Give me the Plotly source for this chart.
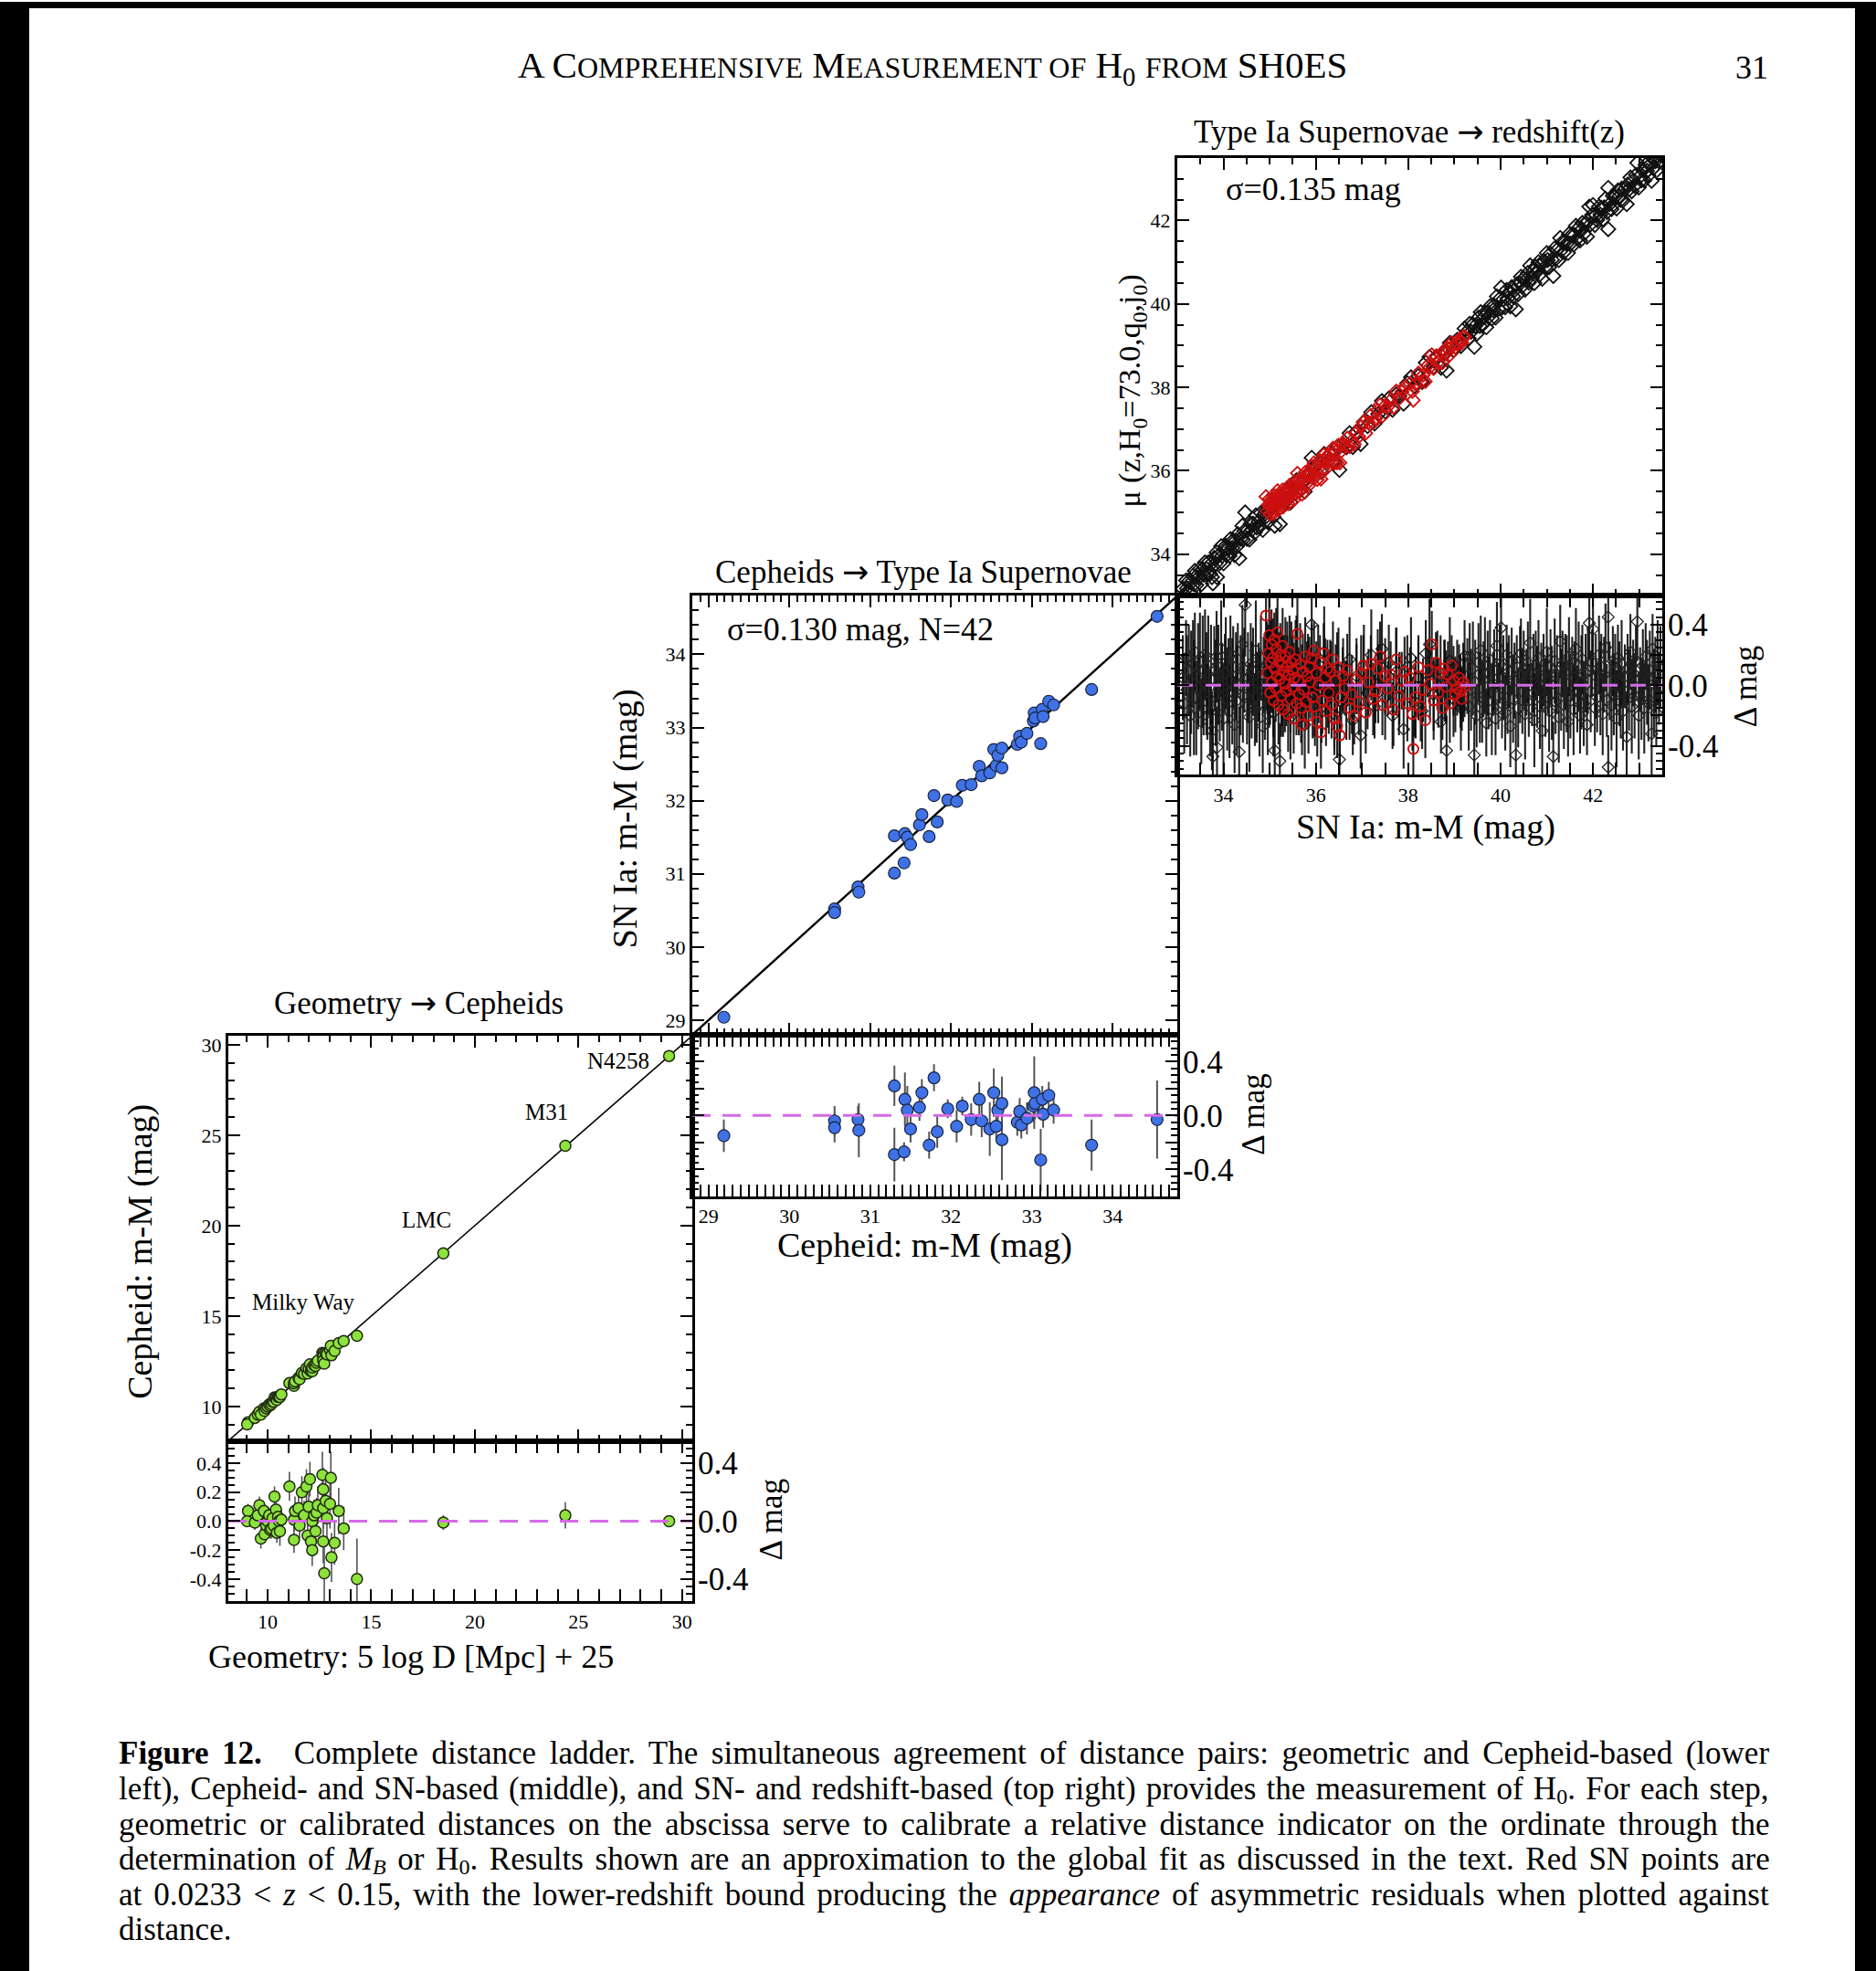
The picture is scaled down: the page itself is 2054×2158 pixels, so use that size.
import plotly.graph_objects as go

W, H = 2054, 2158
FONT = "Liberation Serif, Times New Roman, serif"

# ---------------- data ----------------
# Rung 1: geometric distance vs Cepheid distance (Milky Way parallaxes, LMC, M31, N4258)
geo_dist = [9.05, 9.01, 9.38, 9.52, 9.60, 9.67, 9.82, 9.85, 9.93, 10.00,
            10.07, 10.12, 10.18, 10.24, 10.29, 10.33, 10.40, 10.44, 10.50, 10.55,
            10.59, 10.66, 11.05, 11.27, 11.27, 11.32, 11.49, 11.54, 11.65, 11.76,
            11.87, 11.93, 11.98, 12.04, 12.09, 12.15, 12.15, 12.24, 12.31, 12.36,
            12.42, 12.64, 12.68, 12.68, 12.68, 12.73, 12.80, 12.86, 13.01, 13.05,
            13.08, 13.23, 13.43, 13.67, 14.31, 18.48, 24.37, 29.38]
geo_resid = [0.07, 0.00, -0.01, 0.04, 0.11, -0.12, 0.07, -0.09, -0.03, 0.00,
             0.04, -0.06, -0.05, 0.02, -0.03, 0.17, 0.08, -0.08, 0.03, 0.00,
             -0.07, 0.01, 0.24, -0.13, 0.01, 0.07, 0.09, -0.03, 0.20, 0.04,
             0.24, -0.10, 0.10, 0.29, -0.14, -0.20, 0.00, 0.04, -0.07, 0.06,
             0.11, 0.32, 0.22, 0.09, -0.14, -0.36, 0.14, 0.02, 0.12, 0.30,
             -0.25, -0.15, 0.07, -0.05, -0.40, -0.01, 0.04, 0.00]
geo_err = [0.05, 0.04, 0.05, 0.05, 0.06, 0.07, 0.05, 0.06, 0.05, 0.06,
           0.05, 0.06, 0.07, 0.05, 0.06, 0.07, 0.08, 0.07, 0.06, 0.08,
           0.10, 0.07, 0.10, 0.09, 0.08, 0.10, 0.09, 0.09, 0.11, 0.10,
           0.12, 0.10, 0.11, 0.12, 0.10, 0.11, 0.09, 0.11, 0.12, 0.10,
           0.13, 0.16, 0.15, 0.14, 0.15, 0.25, 0.16, 0.15, 0.17, 0.18,
           0.17, 0.15, 0.16, 0.15, 0.28, 0.05, 0.09, 0.03]
geo_names = ["Milky Way", "LMC", "M31", "N4258"]
geo_name_x = [11.74, 17.65, 23.45, 26.95]
geo_name_y = [15.8, 20.3, 26.3, 29.1]

# Rung 2: Cepheid distance vs SN Ia distance for the 42 calibrators
cep_dist = [29.19, 30.56, 30.56, 30.85, 30.86, 31.30, 31.30, 31.42, 31.43, 31.46,
            31.50, 31.61, 31.64, 31.73, 31.79, 31.83, 31.96, 32.07, 32.14, 32.25,
            32.35, 32.38, 32.48, 32.53, 32.56, 32.58, 32.63, 32.63, 32.82, 32.85,
            32.87, 32.94, 33.02, 33.03, 33.04, 33.11, 33.13, 33.14, 33.21, 33.27,
            33.74, 34.55]
cep_resid = [-0.15, -0.04, -0.09, -0.03, -0.11, 0.22, -0.29, -0.27, 0.12, 0.04,
             -0.10, 0.06, 0.17, -0.22, 0.28, -0.12, 0.05, -0.08, 0.07, -0.03,
             0.12, -0.04, -0.10, 0.17, -0.08, 0.04, -0.18, 0.09, -0.05, 0.03,
             -0.07, -0.02, 0.07, 0.17, 0.09, -0.33, 0.12, 0.01, 0.15, 0.04,
             -0.22, -0.03]
cep_err = [0.12, 0.11, 0.11, 0.10, 0.20, 0.15, 0.20, 0.07, 0.20, 0.18,
           0.10, 0.10, 0.10, 0.10, 0.10, 0.12, 0.07, 0.12, 0.07, 0.12,
           0.13, 0.12, 0.20, 0.18, 0.10, 0.12, 0.30, 0.20, 0.10, 0.10,
           0.10, 0.12, 0.12, 0.27, 0.12, 0.23, 0.10, 0.10, 0.10, 0.10,
           0.19, 0.29]

# Rung 3: SN Ia distance vs redshift distance (Hubble-flow sample)
sn_dist = [
    33.12, 33.15, 33.19, 33.21, 33.25, 33.28, 33.30, 33.34, 33.36, 33.38,
    33.41, 33.45, 33.46, 33.49, 33.52, 33.55, 33.57, 33.60, 33.63, 33.65,
    33.67, 33.71, 33.73, 33.75, 33.77, 33.80, 33.83, 33.85, 33.86, 33.89,
    33.92, 33.95, 33.97, 34.00, 34.03, 34.05, 34.08, 34.11, 34.13, 34.15,
    34.19, 34.21, 34.24, 34.27, 34.29, 34.31, 34.34, 34.37, 34.41, 34.42,
    34.45, 34.47, 34.51, 34.53, 34.56, 34.59, 34.61, 34.64, 34.68, 34.70,
    34.72, 34.76, 34.78, 34.81, 34.85, 34.87, 34.90, 34.94, 34.96, 34.99,
    35.03, 35.08, 35.11, 35.15, 35.22, 35.27, 35.33, 35.38, 35.45, 35.52,
    35.58, 35.63, 35.70, 35.76, 35.83, 35.91, 35.97, 36.05, 36.12, 36.18,
    36.26, 36.33, 36.40, 36.46, 36.51, 36.58, 36.66, 36.73, 36.80, 36.88,
    36.97, 37.04, 37.12, 37.20, 37.27, 37.35, 37.43, 37.50, 37.58, 37.66,
    37.74, 37.81, 37.90, 37.98, 38.06, 38.14, 38.22, 38.30, 38.38, 38.46,
    38.55, 38.63, 38.71, 38.79, 38.83, 38.90, 38.98, 39.06, 39.14, 39.22,
    39.28, 39.31, 39.33, 39.36, 39.40, 39.43, 39.45, 39.48, 39.52, 39.55,
    39.57, 39.60, 39.63, 39.66, 39.69, 39.72, 39.74, 39.77, 39.81, 39.84,
    39.86, 39.89, 39.92, 39.95, 39.98, 40.01, 40.03, 40.06, 40.10, 40.13,
    40.15, 40.18, 40.21, 40.24, 40.27, 40.30, 40.33, 40.35, 40.38, 40.42,
    40.44, 40.47, 40.50, 40.53, 40.56, 40.59, 40.61, 40.64, 40.68, 40.71,
    40.73, 40.76, 40.79, 40.82, 40.85, 40.88, 40.90, 40.93, 40.97, 41.00,
    41.02, 41.05, 41.08, 41.11, 41.14, 41.17, 41.19, 41.22, 41.26, 41.29,
    41.31, 41.34, 41.37, 41.40, 41.43, 41.46, 41.48, 41.51, 41.55, 41.58,
    41.60, 41.63, 41.66, 41.69, 41.72, 41.75, 41.77, 41.80, 41.84, 41.87,
    41.89, 41.92, 41.95, 41.98, 42.00, 42.04, 42.06, 42.09, 42.13, 42.16,
    42.18, 42.21, 42.24, 42.27, 42.30, 42.33, 42.33, 42.36, 42.40, 42.43,
    42.45, 42.48, 42.51, 42.54, 42.57, 42.60, 42.62, 42.65, 42.69, 42.73,
    42.75, 42.78, 42.81, 42.84, 42.87, 42.90, 42.93, 42.96, 42.99, 43.02,
    43.05, 43.08, 43.11, 43.14, 43.17, 43.20, 43.23, 43.27, 43.29, 43.32,
    43.35, 43.37, 43.40, 43.43, 43.46]
sn_resid = [
    0.05, -0.12, 0.18, -0.03, 0.10, -0.20, 0.02, 0.14, -0.08, 0.22,
    -0.15, 0.06, -0.02, 0.16, -0.24, 0.09, -0.06, 0.20, 0.01, -0.11,
    0.13, -0.18, 0.04, -0.30, -0.47, 0.11, -0.05, 0.19, -0.41, 0.07,
    -0.13, 0.24, -0.01, -0.22, 0.08, 0.15, -0.09, 0.03, -0.17, 0.21,
    -0.04, 0.12, -0.26, 0.06, -0.10, 0.17, -0.44, 0.00, 0.27, -0.07,
    0.10, 0.53, -0.14, 0.05, -0.21, 0.14, -0.03, 0.09, -0.16, 0.23,
    -0.08, 0.02, -0.12, 0.18, -0.27, 0.07, -0.02, 0.13, -0.19, 0.04,
    0.08, -0.18, -0.43, 0.12, -0.50, 0.03, -0.09, 0.16, -0.21, 0.05,
    0.19, -0.12, 0.02, -0.26, 0.10, 0.40, -0.06, 0.14, -0.15, 0.22,
    -0.03, 0.07, -0.19, 0.11, -0.49, 0.04, -0.10, 0.17, -0.23, 0.06,
    -0.33, 0.13, -0.05, 0.20, -0.14, 0.01, 0.24, -0.08, 0.15, -0.20,
    0.09, -0.02, -0.29, 0.12, 0.18, -0.11, 0.05, -0.17, 0.21, 0.27,
    -0.06, 0.10, -0.24, 0.03, -0.43, 0.16, -0.09, 0.08, -0.15, 0.19,
    0.06, -0.14, 0.19, -0.03, 0.11, -0.46, 0.02, -0.20, 0.15, -0.08,
    0.23, -0.11, 0.04, 0.13, -0.25, 0.08, -0.05, 0.17, -0.16, 0.01,
    0.10, -0.22, 0.26, -0.07, 0.14, 0.38, -0.12, 0.05, -0.18, 0.20,
    -0.02, 0.09, -0.27, 0.16, -0.09, 0.03, -0.46, 0.12, -0.15, 0.07,
    0.21, -0.04, 0.11, -0.19, 0.02, 0.15, -0.10, 0.28, -0.06, 0.08,
    -0.23, 0.13, -0.01, 0.18, -0.14, 0.06, -0.30, 0.10, -0.08, 0.22,
    0.03, -0.17, 0.12, -0.05, -0.47, 0.16, -0.11, 0.07, -0.21, 0.29,
    -0.03, 0.14, -0.13, 0.09, 0.01, -0.24, 0.19, -0.07, 0.11, -0.16,
    0.05, 0.24, -0.09, 0.13, -0.20, 0.02, 0.17, -0.12, 0.08, -0.26,
    0.10, 0.41, -0.04, 0.15, 0.37, -0.15, 0.06, -0.08, 0.20, -0.02,
    0.12, -0.19, 0.07, 0.25, -0.10, 0.45, -0.54, 0.03, -0.13, 0.16,
    -0.06, 0.09, -0.22, 0.18, 0.01, -0.11, 0.14, -0.17, 0.06, -0.34,
    0.11, -0.03, 0.22, -0.14, 0.08, -0.07, 0.16, 0.42, -0.20, 0.04,
    -0.09, 0.13, -0.15, 0.19, 0.02, -0.12, 0.10, -0.32, 0.24, -0.05,
    0.07, -0.18, 0.15, -0.02, 0.12]
sn_err = [
    0.28, 0.33, 0.25, 0.36, 0.30, 0.27, 0.34, 0.29, 0.38, 0.26,
    0.31, 0.35, 0.24, 0.32, 0.28, 0.37, 0.27, 0.30, 0.34, 0.25,
    0.33, 0.29, 0.36, 0.26, 0.31, 0.28, 0.35, 0.30, 0.27, 0.33,
    0.24, 0.32, 0.29, 0.37, 0.26, 0.30, 0.34, 0.28, 0.31, 0.25,
    0.35, 0.27, 0.32, 0.29, 0.36, 0.24, 0.30, 0.33, 0.26, 0.31,
    0.28, 0.34, 0.25, 0.30, 0.36, 0.27, 0.32, 0.29, 0.24, 0.33,
    0.30, 0.26, 0.35, 0.28, 0.31, 0.25, 0.34, 0.29, 0.27, 0.32,
    0.24, 0.29, 0.21, 0.27, 0.25, 0.30, 0.22, 0.26, 0.28, 0.23,
    0.27, 0.21, 0.25, 0.29, 0.24, 0.22, 0.28, 0.26, 0.23, 0.30,
    0.25, 0.22, 0.27, 0.24, 0.29, 0.21, 0.26, 0.28, 0.23, 0.25,
    0.22, 0.27, 0.24, 0.30, 0.21, 0.26, 0.23, 0.28, 0.25, 0.22,
    0.29, 0.24, 0.26, 0.21, 0.27, 0.23, 0.28, 0.25, 0.22, 0.30,
    0.24, 0.26, 0.21, 0.27, 0.23, 0.29, 0.25, 0.22, 0.28, 0.24,
    0.25, 0.29, 0.22, 0.27, 0.31, 0.24, 0.28, 0.21, 0.26, 0.30,
    0.23, 0.27, 0.25, 0.32, 0.22, 0.28, 0.24, 0.26, 0.30, 0.21,
    0.27, 0.24, 0.29, 0.22, 0.26, 0.31, 0.23, 0.28, 0.25, 0.20,
    0.30, 0.24, 0.27, 0.22, 0.29, 0.25, 0.28, 0.21, 0.26, 0.32,
    0.23, 0.28, 0.25, 0.30, 0.22, 0.27, 0.24, 0.29, 0.21, 0.26,
    0.31, 0.23, 0.27, 0.25, 0.28, 0.22, 0.30, 0.24, 0.26, 0.29,
    0.22, 0.27, 0.25, 0.31, 0.23, 0.28, 0.21, 0.26, 0.30, 0.24,
    0.27, 0.22, 0.29, 0.25, 0.32, 0.23, 0.26, 0.28, 0.21, 0.30,
    0.24, 0.27, 0.22, 0.29, 0.25, 0.31, 0.23, 0.28, 0.26, 0.20,
    0.29, 0.24, 0.27, 0.22, 0.30, 0.25, 0.28, 0.23, 0.26, 0.31,
    0.22, 0.27, 0.25, 0.29, 0.24, 0.28, 0.21, 0.26, 0.30, 0.23,
    0.27, 0.25, 0.32, 0.22, 0.28, 0.24, 0.29, 0.26, 0.21, 0.30,
    0.23, 0.27, 0.25, 0.31, 0.22, 0.28, 0.24, 0.26, 0.29, 0.21,
    0.27, 0.24, 0.30, 0.22, 0.28, 0.25, 0.26, 0.31, 0.23, 0.29,
    0.25, 0.22, 0.28, 0.24, 0.27]

# SNe at 0.0233 < z < 0.15 (red)
snz_dist = [
    34.92, 34.95, 34.97, 34.99, 35.01, 35.02, 35.04, 35.05, 35.07, 35.08,
    35.10, 35.11, 35.13, 35.14, 35.16, 35.17, 35.19, 35.20, 35.22, 35.23,
    35.25, 35.26, 35.28, 35.29, 35.31, 35.33, 35.34, 35.36, 35.38, 35.40,
    35.41, 35.43, 35.45, 35.47, 35.49, 35.50, 35.52, 35.54, 35.56, 35.58,
    35.60, 35.62, 35.64, 35.66, 35.68, 35.70, 35.72, 35.74, 35.77, 35.79,
    35.81, 35.84, 35.86, 35.88, 35.91, 35.93, 35.96, 35.98, 36.01, 36.03,
    36.06, 36.09, 36.11, 36.14, 36.17, 36.20, 36.22, 36.25, 36.28, 36.31,
    36.34, 36.37, 36.40, 36.43, 36.46, 36.49, 36.52, 36.55, 36.59, 36.63,
    36.68, 36.73, 36.78, 36.83, 36.88, 36.93, 36.98, 37.03, 37.08, 37.14,
    37.19, 37.24, 37.29, 37.34, 37.39, 37.44, 37.50, 37.56, 37.62, 37.68,
    37.74, 37.80, 37.86, 37.92, 37.98, 38.04, 38.09, 38.11, 38.16, 38.22,
    38.27, 38.32, 38.37, 38.42, 38.47, 38.51, 38.55, 38.60, 38.65, 38.70,
    38.74, 38.78, 38.82, 38.86, 38.90, 38.94, 38.98, 39.02, 39.06, 39.10,
    39.13, 39.16, 39.19, 39.22]
snz_resid = [
    0.46, 0.08, 0.21, 0.33, -0.05, 0.15, 0.27, 0.02, 0.18, -0.10,
    0.30, 0.11, -0.02, 0.24, 0.06, 0.35, -0.13, 0.16, 0.04, 0.20,
    -0.07, 0.13, 0.26, -0.16, 0.09, 0.01, 0.19, -0.04, 0.12, -0.19,
    0.07, 0.22, -0.09, 0.15, -0.01, 0.10, -0.22, 0.05, 0.17, -0.12,
    0.34, 0.03, -0.06, 0.14, -0.15, -0.26, 0.09, -0.03, 0.19, -0.11,
    0.06, -0.20, 0.12, 0.02, 0.18, -0.08, 0.23, -0.14, 0.08, -0.24,
    0.00, 0.15, -0.31, -0.10, 0.21, 0.05, -0.17, 0.11, -0.05, 0.09,
    -0.13, 0.17, -0.22, 0.03, -0.27, 0.12, -0.33, -0.08, 0.06, -0.02,
    0.10, -0.15, -0.06, -0.20, 0.04, -0.11, 0.08, 0.13, -0.18, 0.02,
    0.14, -0.09, -0.04, 0.11, 0.19, -0.13, 0.06, -0.02, 0.07, -0.16,
    0.17, -0.07, 0.03, 0.09, -0.12, 0.05, -0.19, -0.42, -0.08, 0.12,
    -0.14, -0.03, -0.23, 0.10, 0.01, 0.27, -0.10, 0.15, -0.05, 0.08,
    -0.15, 0.11, -0.01, 0.07, -0.12, 0.13, 0.03, -0.06, -0.02, 0.05,
    -0.04, -0.09, 0.02, -0.01]
snz_err = [
    0.22, 0.27, 0.19, 0.25, 0.21, 0.28, 0.23, 0.20, 0.26, 0.24,
    0.18, 0.25, 0.22, 0.27, 0.20, 0.24, 0.26, 0.19, 0.23, 0.21,
    0.27, 0.22, 0.25, 0.18, 0.24, 0.20, 0.26, 0.23, 0.21, 0.25,
    0.19, 0.24, 0.22, 0.27, 0.20, 0.25, 0.23, 0.18, 0.26, 0.21,
    0.24, 0.22, 0.19, 0.27, 0.23, 0.20, 0.25, 0.21, 0.26, 0.18,
    0.23, 0.25, 0.20, 0.24, 0.22, 0.27, 0.19, 0.26, 0.21, 0.23,
    0.25, 0.18, 0.24, 0.22, 0.20, 0.26, 0.23, 0.19, 0.27, 0.21,
    0.22, 0.25, 0.19, 0.24, 0.21, 0.26, 0.20, 0.23, 0.25, 0.18,
    0.24, 0.21, 0.26, 0.19, 0.23, 0.22, 0.25, 0.20, 0.27, 0.22,
    0.19, 0.24, 0.21, 0.26, 0.23, 0.20, 0.25, 0.18, 0.22, 0.24,
    0.21, 0.26, 0.19, 0.23, 0.25, 0.20, 0.24, 0.22, 0.27, 0.19,
    0.23, 0.21, 0.25, 0.18, 0.24, 0.22, 0.26, 0.20, 0.23, 0.25,
    0.21, 0.19, 0.24, 0.22, 0.26, 0.20, 0.23, 0.25, 0.18, 0.22,
    0.24, 0.21, 0.26, 0.20]

# axis ranges
geo_range = [8.1, 30.5]
cep_range = [28.8, 34.8]
sn_range = [33.0, 43.5]
geo_dres = [-0.555, 0.555]
cep_dres = [-0.6, 0.6]
sn_dres = [-0.59, 0.59]

dres_vals = [-0.4, -0.2, 0.0, 0.2, 0.4]
dres_text = ["-0.4", "-0.2", "0.0", "0.2", "0.4"]
right_vals = [-0.4, 0.0, 0.4]
right_text = ["-0.4", "0.0", "0.4"]

# ---------------- helpers ----------------
def px(x):
    return x / W


def py(y):
    return 1 - y / H


def add(a, b):
    return [u + v for u, v in zip(a, b)]


def frame_axis(rng, domain, anchor, dtick=None, tick0=None, minor=None,
               labels=True, tickvals=None, ticktext=None, size=22):
    d = dict(range=rng, domain=domain, anchor=anchor, showline=True,
             linecolor="black", linewidth=3, mirror="allticks",
             ticks="inside", ticklen=13, tickwidth=2, tickcolor="black",
             showgrid=False, zeroline=False, showticklabels=labels,
             tickfont=dict(family=FONT, size=size, color="black"),
             minor=dict(tickmode="linear", tick0=0, dtick=minor, ticks="inside",
                        ticklen=7, tickwidth=1.5, tickcolor="black",
                        showgrid=False))
    if tickvals is not None:
        d.update(tickmode="array", tickvals=tickvals, ticktext=ticktext)
    else:
        d.update(tickmode="linear", tick0=tick0, dtick=dtick)
    return d


def right_axis(over, anchor, rng):
    return dict(overlaying=over, anchor=anchor, side="right", range=rng,
                showline=False, ticks="", showgrid=False, zeroline=False,
                tickmode="array", tickvals=right_vals, ticktext=right_text,
                tickfont=dict(family=FONT, size=35, color="black"),
                ticklabelstandoff=5)


# panel frames in pixels
P1X = [250, 758]
P1Y_main = [1133, 1577]
P1Y_res = [1577, 1753]
P2X = [758, 1289]
P2Y_main = [651, 1132]
P2Y_res = [1132, 1309]
P3X = [1289, 1820]
P3Y_main = [171, 651]
P3Y_res = [651, 847]


def xdom(p):
    return [px(p[0]), px(p[1])]


def ydom(p):
    return [py(p[1]), py(p[0])]


fig = go.Figure()

PINK = "#d56ae8"
GREEN = "#8ee23c"
BLUE = "#3f72e6"
RED = "#cc1010"

# ---------- rung 1 ----------
fig.add_trace(go.Scatter(x=geo_range, y=geo_range, mode="lines",
                         line=dict(color="black", width=1.6),
                         xaxis="x", yaxis="y", hoverinfo="skip"))
fig.add_trace(go.Scatter(x=geo_dist, y=add(geo_dist, geo_resid), mode="markers",
                         marker=dict(symbol="circle", size=12, color=GREEN,
                                     line=dict(color="#1f2a10", width=1.5)),
                         xaxis="x", yaxis="y"))
fig.add_trace(go.Scatter(x=geo_range, y=[0, 0], mode="lines",
                         line=dict(color=PINK, width=3, dash="20px,13px"),
                         xaxis="x2", yaxis="y7", hoverinfo="skip"))
fig.add_trace(go.Scatter(x=geo_dist, y=geo_resid, mode="markers",
                         error_y=dict(type="data", array=geo_err, color="#555555",
                                      thickness=1.6, width=0),
                         marker=dict(symbol="circle", size=12, color=GREEN,
                                     line=dict(color="#1f2a10", width=1.5)),
                         xaxis="x2", yaxis="y2"))

# ---------- rung 2 ----------
fig.add_trace(go.Scatter(x=cep_range, y=cep_range, mode="lines",
                         line=dict(color="black", width=2.4),
                         xaxis="x3", yaxis="y3", hoverinfo="skip"))
fig.add_trace(go.Scatter(x=cep_dist, y=add(cep_dist, cep_resid), mode="markers",
                         marker=dict(symbol="circle", size=13, color=BLUE,
                                     line=dict(color="#1a2440", width=1.2)),
                         xaxis="x3", yaxis="y3"))
fig.add_trace(go.Scatter(x=cep_range, y=[0, 0], mode="lines",
                         line=dict(color=PINK, width=3, dash="20px,13px"),
                         xaxis="x4", yaxis="y8", hoverinfo="skip"))
fig.add_trace(go.Scatter(x=cep_dist, y=cep_resid, mode="markers",
                         error_y=dict(type="data", array=cep_err, color="#555555",
                                      thickness=2, width=0),
                         marker=dict(symbol="circle", size=13, color=BLUE,
                                     line=dict(color="#1a2440", width=1.2)),
                         xaxis="x4", yaxis="y4"))

# ---------- rung 3 ----------
fig.add_trace(go.Scatter(x=sn_range, y=sn_range, mode="lines",
                         line=dict(color="black", width=2),
                         xaxis="x5", yaxis="y5", hoverinfo="skip"))
fig.add_trace(go.Scatter(x=sn_dist, y=add(sn_dist, sn_resid), mode="markers",
                         marker=dict(symbol="diamond-open", size=12, color="#111111",
                                     line=dict(width=1.8)),
                         xaxis="x5", yaxis="y5"))
fig.add_trace(go.Scatter(x=snz_dist, y=add(snz_dist, snz_resid), mode="markers",
                         marker=dict(symbol="diamond-open", size=11, color=RED,
                                     line=dict(width=1.9)),
                         xaxis="x5", yaxis="y5"))
fig.add_trace(go.Scatter(x=sn_dist, y=sn_resid, mode="markers",
                         error_y=dict(type="data", array=sn_err,
                                      color="rgba(10,10,10,0.9)",
                                      thickness=2.1, width=0),
                         marker=dict(symbol="diamond-open", size=10, color="#222222",
                                     line=dict(width=1.3)),
                         xaxis="x6", yaxis="y6"))
fig.add_trace(go.Scatter(x=snz_dist, y=snz_resid, mode="markers",
                         error_y=dict(type="data", array=snz_err,
                                      color="rgba(10,10,10,0.9)",
                                      thickness=2.1, width=0),
                         marker=dict(symbol="circle-open", size=11, color=RED,
                                     line=dict(width=2)),
                         xaxis="x6", yaxis="y6"))
fig.add_trace(go.Scatter(x=sn_range, y=[0, 0], mode="lines",
                         line=dict(color=PINK, width=3, dash="17px,14px"),
                         xaxis="x6", yaxis="y9", hoverinfo="skip"))

# ---------- axes ----------
fig.update_layout(
    xaxis=frame_axis(geo_range, xdom(P1X), "y", dtick=5, tick0=0, minor=1, labels=False),
    yaxis=frame_axis(geo_range, ydom(P1Y_main), "x", dtick=5, tick0=0, minor=1),
    xaxis2=frame_axis(geo_range, xdom(P1X), "y2", dtick=5, tick0=0, minor=1),
    yaxis2=frame_axis(geo_dres, ydom(P1Y_res), "x2", minor=0.05,
                      tickvals=dres_vals, ticktext=dres_text),
    xaxis3=frame_axis(cep_range, xdom(P2X), "y3", dtick=1, tick0=0, minor=0.1, labels=False),
    yaxis3=frame_axis(cep_range, ydom(P2Y_main), "x3", dtick=1, tick0=0, minor=0.2),
    xaxis4=frame_axis(cep_range, xdom(P2X), "y4", dtick=1, tick0=0, minor=0.1),
    yaxis4=frame_axis(cep_dres, ydom(P2Y_res), "x4", minor=0.05, labels=False,
                      tickvals=dres_vals, ticktext=dres_text),
    xaxis5=frame_axis(sn_range, xdom(P3X), "y5", dtick=2, tick0=0, minor=0.5, labels=False),
    yaxis5=frame_axis(sn_range, ydom(P3Y_main), "x5", dtick=2, tick0=0, minor=0.5),
    xaxis6=frame_axis(sn_range, xdom(P3X), "y6", dtick=2, tick0=0, minor=0.5),
    yaxis6=frame_axis(sn_dres, ydom(P3Y_res), "x6", minor=0.05, labels=False,
                      tickvals=dres_vals, ticktext=dres_text),
    yaxis7=right_axis("y2", "x2", geo_dres),
    yaxis8=right_axis("y4", "x4", cep_dres),
    yaxis9=right_axis("y6", "x6", sn_dres),
)

# ---------- text ----------
ann = []


def text(x, y, s, size, angle=0, xanchor="center", yanchor="middle",
         xref="paper", yref="paper", family=FONT):
    ann.append(dict(x=x, y=y, xref=xref, yref=yref, text=s, showarrow=False,
                    textangle=angle, xanchor=xanchor, yanchor=yanchor,
                    font=dict(family=family, size=size, color="black")))


def sc(s):
    return "<span style='font-size:32px'>" + s + "</span>"


ARROW = "<span style='font-family:DejaVu Sans'>\u2192</span>"

text(px(1021), py(72), "A C" + sc("OMPREHENSIVE") + " M" + sc("EASUREMENT OF")
     + " H<sub>0</sub> " + sc("FROM") + " SH0ES", 41)
text(px(1918), py(72), "31", 36)

text(px(1543), py(142), "Type Ia Supernovae " + ARROW + " redshift(z)", 35)
text(px(1011), py(625), "Cepheids " + ARROW + " Type Ia Supernovae", 35)
text(px(458), py(1097), "Geometry " + ARROW + " Cepheids", 35)

text(px(1340), py(205), "\u03c3=0.135 mag", 36, xanchor="left")
text(px(794), py(688), "\u03c3=0.130 mag, N=42", 36, xanchor="left")

text(px(1239), py(427), "\u03bc (z,H<sub>0</sub>=73.0,q<sub>0</sub>,j<sub>0</sub>)", 34, angle=-90)
text(px(684), py(895), "SN Ia: m-M (mag)", 38, angle=-90)
text(px(154), py(1370), "Cepheid: m-M (mag)", 38, angle=-90)

text(px(1561), py(904), "SN Ia: m-M (mag)", 38)
text(px(1012), py(1363), "Cepheid: m-M (mag)", 38)
text(px(450), py(1814), "Geometry: 5 log D [Mpc] + 25", 36)

text(px(1911), py(750), "\u0394 mag", 35, angle=-90)
text(px(1373), py(1219), "\u0394 mag", 35, angle=-90)
text(px(844), py(1663), "\u0394 mag", 35, angle=-90)

for name, gx, gy in zip(geo_names, geo_name_x, geo_name_y):
    text(gx, gy, name, 25, xref="x", yref="y")


def csub(s):
    # compact subscript for the tightly set caption lines
    return "<span style='font-size:24px;baseline-shift:-5px'>" + s + "</span>"


# caption, justified to the text block with per-line word spacing
caption = [
    "<b>Figure 12.</b>\u2003Complete distance ladder. The simultaneous agreement of distance pairs: geometric and Cepheid-based (lower",
    "left), Cepheid- and SN-based (middle), and SN- and redshift-based (top right) provides the measurement of H" + csub("0") + ". For each step,",
    "geometric or calibrated distances on the abscissa serve to calibrate a relative distance indicator on the ordinate through the",
    "determination of <i>M</i>" + csub("<i>B</i>") + " or H" + csub("0") + ". Results shown are an approximation to the global fit as discussed in the text. Red SN points are",
    "at 0.0233 &lt; <i>z</i> &lt; 0.15, with the lower-redshift bound producing the <i>appearance</i> of asymmetric residuals when plotted against",
    "distance.",
]
cap_spacing = [5.8, 2.5, 5.4, 3.9, 4.2, 0]
cap_y = [1921, 1960, 1999, 2037, 2076, 2114]
for line, ws, yy in zip(caption, cap_spacing, cap_y):
    text(px(128), py(yy - 23), "<span style='word-spacing:%.1fpx'>%s</span>" % (ws, line),
         35, xanchor="left", yanchor="top")

# page border bands
shapes = [
    dict(type="rect", xref="paper", yref="paper", x0=0, x1=px(32), y0=0, y1=1,
         fillcolor="black", line=dict(width=0)),
    dict(type="rect", xref="paper", yref="paper", x0=0, x1=1, y0=py(7), y1=1,
         fillcolor="black", line=dict(width=0)),
    dict(type="rect", xref="paper", yref="paper", x0=px(2031), x1=1, y0=0, y1=1,
         fillcolor="black", line=dict(width=0)),
]

fig.update_layout(width=W, height=H, margin=dict(l=0, r=0, t=0, b=0),
                  paper_bgcolor="white", plot_bgcolor="white",
                  showlegend=False, annotations=ann, shapes=shapes,
                  font=dict(family=FONT, color="black"))

fig.write_html("out.html")
